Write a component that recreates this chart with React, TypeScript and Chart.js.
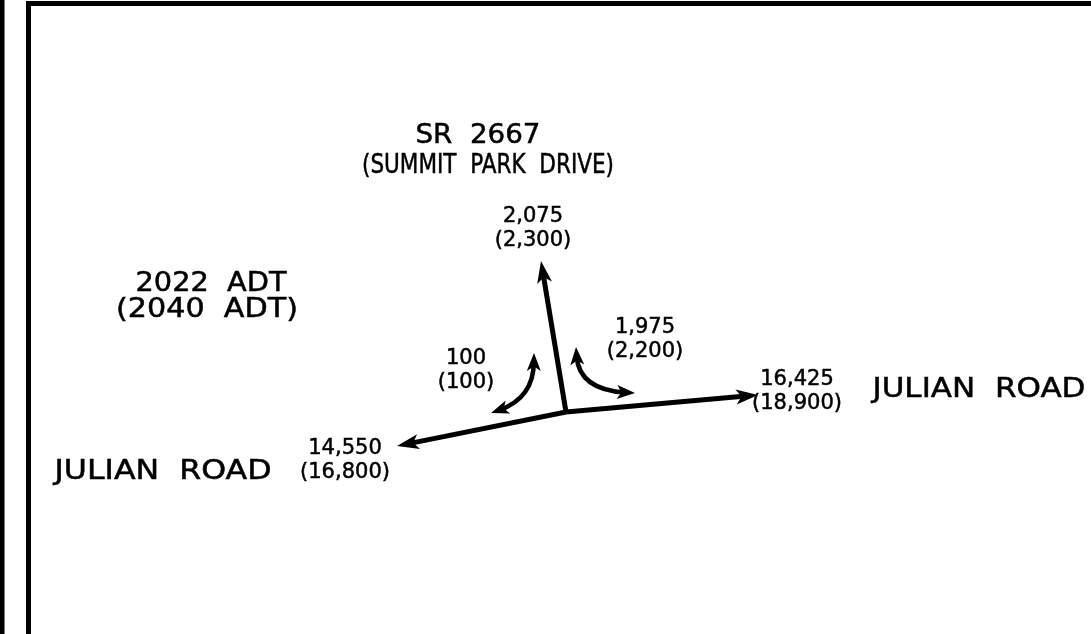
import { useEffect, useRef } from 'react';
import { Chart, registerables } from 'chart.js';
Chart.register(...registerables);

const W = 1091;
const H = 634;

// ---- data ----
const movements = ['SR 2667 leg', 'Julian Road east leg', 'Julian Road west leg', 'Left turn', 'Right turn'];
const adt2022 = [2075, 16425, 14550, 100, 1975];
const adt2040 = [2300, 18900, 16800, 100, 2200];
const roadTitle = ['SR  2667', '(SUMMIT  PARK  DRIVE)'];
const roadWest = 'JULIAN  ROAD';
const roadEast = 'JULIAN  ROAD';
const yearLabels = ['2022  ADT', '(2040  ADT)'];

// ---- layout (diagram geometry, in canvas units) ----
const NODE = { x: 566, y: 412 };
const LEG_ENDS = [
  { x: 541, y: 261 },
  { x: 758, y: 395 },
  { x: 397, y: 446 },
];
const TURN_CURVES = [
  [{ x: 491, y: 413 }, { x: 533.5, y: 398 }, { x: 534, y: 353 }],
  [{ x: 576, y: 347 }, { x: 579, y: 390 }, { x: 635, y: 393 }],
];
const VOLUME_POS = [
  { x: 533, y: 214 },
  { x: 797, y: 377 },
  { x: 345, y: 446 },
  { x: 466, y: 356 },
  { x: 645, y: 325 },
];
// text boxes: centre x, cap-centre y, target width
const TITLE_BOX = [
  { x: 478, y: 133, w: 125 },
  { x: 488, y: 163, w: 252 },
];
const YEAR_BOX = [
  { x: 211, y: 281, w: 151 },
  { x: 207, y: 307, w: 182 },
];
const WEST_BOX = { x: 163, y: 469, w: 217 };
const EAST_BOX = { x: 979, y: 387, w: 213 };
const FONT = '"DejaVu Sans", sans-serif';

const fmt = (v: number) => v.toLocaleString('en-US');

function arrowHead(ctx: CanvasRenderingContext2D, tx: number, ty: number, ang: number, len = 22, half = 7.5) {
  const c = Math.cos(ang), s = Math.sin(ang);
  const bx = tx - c * len, by = ty - s * len;
  const nx = tx - c * len * 0.75, ny = ty - s * len * 0.75;
  ctx.beginPath();
  ctx.moveTo(tx, ty);
  ctx.lineTo(bx - s * half, by + c * half);
  ctx.lineTo(nx, ny);
  ctx.lineTo(bx + s * half, by - c * half);
  ctx.closePath();
  ctx.fill();
}

function fitText(ctx: CanvasRenderingContext2D, text: string, cx: number, cy: number, size: number, w?: number) {
  ctx.font = `${size}px ${FONT}`;
  const nat = ctx.measureText(text).width;
  const sx = w ? w / nat : 1;
  ctx.save();
  ctx.translate(cx, cy + size * 0.365);
  ctx.scale(sx, 1);
  ctx.textAlign = 'center';
  ctx.textBaseline = 'alphabetic';
  ctx.fillText(text, 0, 0);
  ctx.lineWidth = 0.5;
  ctx.strokeText(text, 0, 0);
  ctx.restore();
}

const diagramPlugin = {
  id: 'diagram',
  afterDraw(chart: any) {
    const ctx: CanvasRenderingContext2D = chart.ctx;
    const xs = chart.scales.x, ys = chart.scales.y;
    const px = (v: number) => xs.getPixelForValue(v);
    const py = (v: number) => ys.getPixelForValue(v);
    ctx.save();
    ctx.fillStyle = '#000';
    ctx.strokeStyle = '#000';
    // frame
    ctx.fillRect(px(0), py(0), 4.5, H);
    ctx.fillRect(px(26), py(1), 5, H);
    ctx.fillRect(px(26), py(1), W - 26, 5);

    // road legs with arrows
    ctx.lineWidth = 5;
    ctx.lineCap = 'butt';
    const n = { x: px(NODE.x), y: py(NODE.y) };
    LEG_ENDS.forEach((e) => {
      const t = { x: px(e.x), y: py(e.y) };
      const ang = Math.atan2(t.y - n.y, t.x - n.x);
      ctx.beginPath();
      ctx.moveTo(n.x, n.y);
      ctx.lineTo(t.x - Math.cos(ang) * 12, t.y - Math.sin(ang) * 12);
      ctx.stroke();
      arrowHead(ctx, t.x, t.y, ang);
    });
    // turning movement arcs (double headed)
    ctx.lineWidth = 4.5;
    TURN_CURVES.forEach((cv) => {
      const p0 = { x: px(cv[0].x), y: py(cv[0].y) };
      const c = { x: px(cv[1].x), y: py(cv[1].y) };
      const p2 = { x: px(cv[2].x), y: py(cv[2].y) };
      const a0 = Math.atan2(p0.y - c.y, p0.x - c.x);
      const a2 = Math.atan2(p2.y - c.y, p2.x - c.x);
      ctx.beginPath();
      ctx.moveTo(p0.x - Math.cos(a0) * 9, p0.y - Math.sin(a0) * 9);
      ctx.quadraticCurveTo(c.x, c.y, p2.x - Math.cos(a2) * 9, p2.y - Math.sin(a2) * 9);
      ctx.stroke();
      arrowHead(ctx, p0.x, p0.y, a0, 18, 7);
      arrowHead(ctx, p2.x, p2.y, a2, 18, 7);
    });

    // text
    roadTitle.forEach((t, i) => fitText(ctx, t, px(TITLE_BOX[i].x), py(TITLE_BOX[i].y), 27, TITLE_BOX[i].w));
    yearLabels.forEach((t, i) => fitText(ctx, t, px(YEAR_BOX[i].x), py(YEAR_BOX[i].y), 27, YEAR_BOX[i].w));
    fitText(ctx, roadWest, px(WEST_BOX.x), py(WEST_BOX.y), 27, WEST_BOX.w);
    fitText(ctx, roadEast, px(EAST_BOX.x), py(EAST_BOX.y), 27, EAST_BOX.w);

    movements.forEach((_, i) => {
      const p = VOLUME_POS[i];
      fitText(ctx, fmt(adt2022[i]), px(p.x), py(p.y), 21);
      fitText(ctx, `(${fmt(adt2040[i])})`, px(p.x), py(p.y + 24), 21);
    });
    ctx.restore();
  },
};

export default function App() {
  const ref = useRef<HTMLCanvasElement>(null);
  useEffect(() => {
    if (!ref.current) return;
    const chart = new Chart(ref.current, {
      type: 'scatter',
      data: { datasets: [{ data: [], pointRadius: 0 }] },
      options: {
        animation: false,
        responsive: false,
        maintainAspectRatio: false,
        devicePixelRatio: 1,
        layout: { padding: 0 },
        plugins: { legend: { display: false }, tooltip: { enabled: false } },
        scales: {
          x: { type: 'linear', min: 0, max: W, display: false },
          y: { type: 'linear', min: 0, max: H, reverse: true, display: false },
        },
      },
      plugins: [diagramPlugin],
    });
    return () => chart.destroy();
  }, []);
  return (
    <div style={{ position: 'fixed', left: 0, top: 0, width: W, height: H, background: '#fff' }}>
      <canvas ref={ref} width={W} height={H} style={{ width: W, height: H, display: 'block' }} />
    </div>
  );
}
